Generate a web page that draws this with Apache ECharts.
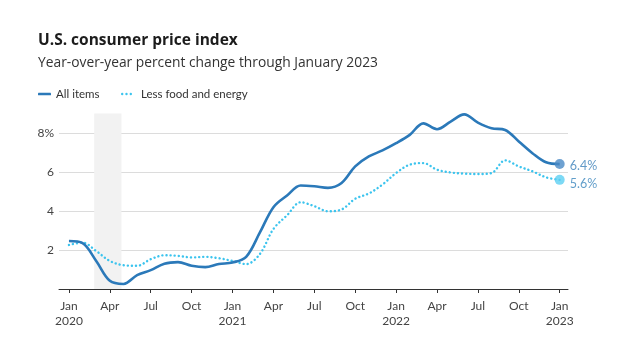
<!DOCTYPE html>
<html>
<head>
<meta charset="utf-8">
<script src="https://cdn.jsdelivr.net/npm/echarts@6/dist/echarts.min.js"></script>
<style>
html,body{margin:0;padding:0;background:#fff;}
#c{width:619px;height:346px;}
</style>
</head>
<body>
<div id="c"></div>
<script>
// Months since Jan 2020 (0 = Jan 2020, 36 = Jan 2023)
const months = [0,1,2,3,4,5,6,7,8,9,10,11,12,13,14,15,16,17,18,19,20,21,22,23,24,25,26,27,28,29,30,31,32,33,34,35,36];
const allItems = [2.46,2.35,1.44,0.42,0.26,0.71,0.97,1.3,1.38,1.19,1.12,1.28,1.36,1.65,2.89,4.2,4.8,5.31,5.27,5.19,5.44,6.29,6.8,7.11,7.48,7.91,8.5,8.2,8.59,8.96,8.54,8.25,8.16,7.57,6.97,6.5,6.41];
const lessFoodEnergy = [2.26,2.38,1.95,1.44,1.22,1.19,1.53,1.73,1.7,1.62,1.65,1.58,1.44,1.28,1.79,3.08,3.78,4.45,4.25,3.99,4.08,4.63,4.9,5.36,5.95,6.38,6.46,6.12,5.98,5.92,5.9,5.95,6.6,6.29,6.04,5.73,5.6];
const tickMonths = [0,3,6,9,12,15,18,21,24,27,30,33,36];
const tickLabels = ['Jan\n2020','Apr','Jul','Oct','Jan\n2021','Apr','Jul','Oct','Jan\n2022','Apr','Jul','Oct','Jan\n2023'];
const recession = [1.85, 3.85];
const endLabels = ['6.4%','5.6%'];

const FONT = 'Lato';
const HFONT = 'Open Sans';
const chart = echarts.init(document.getElementById('c'));
const zip = (xs, ys) => xs.map((x, i) => [x, ys[i]]);
const DOTS = 'path://M0,1.2a1.2,1.2 0 1,0 2.4,0a1.2,1.2 0 1,0 -2.4,0Z M4.3,1.2a1.2,1.2 0 1,0 2.4,0a1.2,1.2 0 1,0 -2.4,0Z M8.6,1.2a1.2,1.2 0 1,0 2.4,0a1.2,1.2 0 1,0 -2.4,0Z';

chart.setOption({
  animation: false,
  textStyle: {fontFamily: FONT},
  title: {
    text: 'U.S. consumer price index',
    subtext: 'Year-over-year percent change through January 2023',
    left: 38, top: 33, itemGap: 7, padding: 0,
    textStyle: {fontFamily: HFONT, fontSize: 15.5, fontWeight: 'bold', color: '#1c1c1c'},
    subtextStyle: {fontFamily: HFONT, fontSize: 13.8, color: '#333'}
  },
  legend: [
    {data: [{name: 'All items', icon: 'roundRect'}], left: 38, top: 88, padding: 0,
     itemWidth: 13, itemHeight: 2.6, itemGap: 5,
     textStyle: {fontFamily: FONT, fontSize: 11.5, color: '#333'}},
    {data: [{name: 'Less food and energy', icon: DOTS}], left: 121, top: 88, padding: 0,
     itemWidth: 11, itemHeight: 2.4,
     textStyle: {fontFamily: FONT, fontSize: 11.5, color: '#333', padding: [0,0,0,4]}}
  ],
  grid: {left: 59, right: 51, top: 113.6, bottom: 57, containLabel: false},
  xAxis: {
    type: 'value', min: -0.73, max: 36.61,
    axisLine: {lineStyle: {color: '#333', width: 1}},
    axisTick: {show: true, length: 4, lineStyle: {color: '#333'}, customValues: tickMonths},
    axisLabel: {customValues: tickMonths, formatter: v => tickLabels[tickMonths.indexOf(Math.round(v))] || '',
      fontFamily: FONT, fontSize: 12, color: '#444', lineHeight: 15, margin: 10},
    splitLine: {show: false}
  },
  yAxis: {
    type: 'value', min: 0, max: 9, interval: 2,
    axisLine: {show: false}, axisTick: {show: false},
    axisLabel: {formatter: v => (v === 0 || v === 9) ? '' : (v === 8 ? '8%' : String(v)),
      fontFamily: FONT, fontSize: 12, color: '#444', margin: 5},
    splitLine: {lineStyle: {color: ['#dcdcdc','#dcdcdc','#dcdcdc','#dcdcdc','#dcdcdc','rgba(0,0,0,0)'], width: 1}}
  },
  series: [
    {
      name: 'All items', type: 'line', data: zip(months, allItems),
      smooth: 0.35, symbol: 'none', clip: false, z: 4,
      lineStyle: {color: '#2b79b9', width: 2.6},
      itemStyle: {color: '#2b79b9'},
      markArea: {silent: true, itemStyle: {color: '#f2f2f2'},
        data: [[{xAxis: recession[0]}, {xAxis: recession[1]}]]}
    },
    {
      name: 'Less food and energy', type: 'line', data: zip(months, lessFoodEnergy),
      smooth: 0.35, symbol: 'none', clip: false, z: 3,
      lineStyle: {color: '#3cc4ee', width: 2.4, type: [0.1, 4], cap: 'round'},
      itemStyle: {color: '#3cc4ee'}
    },
    {
      type: 'scatter', symbolSize: 10, z: 5,
      data: [
        {value: [months[36], allItems[36]], itemStyle: {color: '#4a8ac6'},
         label: {show: true, position: 'right', distance: 5, offset: [0, 1.5], formatter: endLabels[0], color: '#3a7fb9', fontSize: 12.5, fontFamily: FONT}},
        {value: [months[36], lessFoodEnergy[36]], itemStyle: {color: '#5dd0f2'},
         label: {show: true, position: 'right', distance: 5, offset: [0, 4], formatter: endLabels[1], color: '#3a86bd', fontSize: 12.5, fontFamily: FONT}}
      ]
    }
  ]
});
</script>
</body>
</html>
